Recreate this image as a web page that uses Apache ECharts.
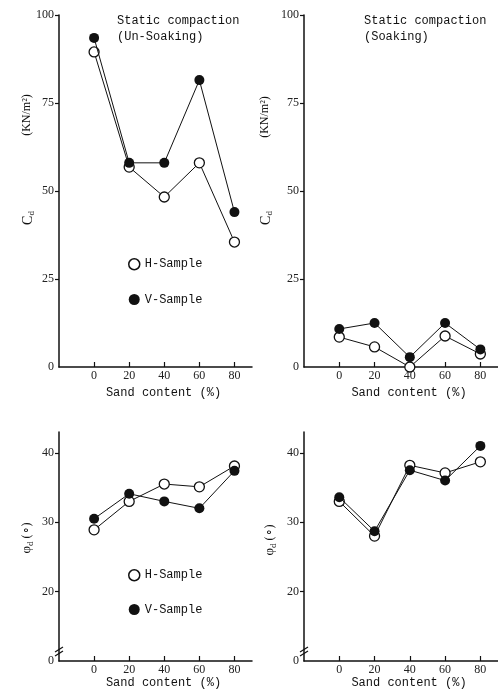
<!DOCTYPE html>
<html>
<head>
<meta charset="utf-8">
<script src="https://cdn.jsdelivr.net/npm/echarts@6/dist/echarts.min.js"></script>
<style>
  html, body { margin: 0; padding: 0; background: #fff; }
  #chart { width: 498px; height: 691px; }
</style>
</head>
<body>
<div id="chart"></div>
<script>
// sand content (%) on every panel
const sand = [0, 20, 40, 60, 80]

// cohesion Cd (KN/m2)
const cdUnsoakH = [89.5, 56.8, 48.3, 58, 35.5]
const cdUnsoakV = [93.5, 58, 58, 81.5, 44]
const cdSoakH = [8.5, 5.7, 0, 8.8, 3.7]
const cdSoakV = [10.8, 12.5, 2.8, 12.5, 5]

// friction angle phi_d (deg)
const phiUnsoakH = [28.9, 33, 35.5, 35.1, 38.1]
const phiUnsoakV = [30.5, 34.1, 33, 32, 37.4]
const phiSoakH = [33, 28, 38.2, 37.1, 38.7]
const phiSoakV = [33.6, 28.7, 37.5, 36, 41]

// tick labels
const cdTicks = [0, 25, 50, 75, 100]
const phiTicks = [20, 30, 40]
const phiBreakLabel = '0'   // axis is broken below 20, bottom shown as 0

const ink = '#111'
const serif = 'Liberation Serif'
const mono = 'Liberation Mono'

const pairs = arr => arr.map((v, i) => [sand[i], v])

const xAxisOf = gridIndex => ({
  type: 'value',
  gridIndex,
  min: -20,
  max: 90,
  name: 'Sand content (%)',
  nameLocation: 'middle',
  nameGap: 16,
  nameTextStyle: { fontFamily: mono, fontSize: 12, color: ink, padding: [0, 0, 0, 16] },
  axisLine: { onZero: false, lineStyle: { color: ink, width: 1.5 } },
  axisTick: { inside: true, length: 5, customValues: sand, lineStyle: { color: ink, width: 1.2 } },
  axisLabel: { customValues: sand, margin: 3, fontFamily: serif, fontSize: 12, color: '#222' },
  splitLine: { show: false }
})

const cdAxis = gridIndex => ({
  type: 'value',
  gridIndex,
  min: 0,
  max: 100,
  interval: 25,
  axisLine: { show: true, onZero: false, lineStyle: { color: ink, width: 1.5 } },
  axisTick: { show: true, length: 4, customValues: cdTicks.slice(1), lineStyle: { color: ink, width: 1.2 } },
  axisLabel: { customValues: cdTicks, margin: 5, fontFamily: serif, fontSize: 12, color: '#222' },
  splitLine: { show: false }
})

const phiAxis = gridIndex => ({
  type: 'value',
  gridIndex,
  min: 10,
  max: 43,
  axisLine: { show: true, onZero: false, lineStyle: { color: ink, width: 1.5 } },
  axisTick: { show: true, length: 4, customValues: phiTicks, lineStyle: { color: ink, width: 1.2 } },
  axisLabel: {
    customValues: [10].concat(phiTicks),
    margin: 5,
    fontFamily: serif,
    fontSize: 12,
    color: '#222',
    formatter: v => (v === 10 ? phiBreakLabel : String(v))
  },
  splitLine: { show: false }
})

const hSeries = (data, idx) => ({
  name: 'H-Sample',
  type: 'line',
  xAxisIndex: idx,
  yAxisIndex: idx,
  data: pairs(data),
  symbol: 'circle',
  symbolSize: 10,
  itemStyle: { color: '#fff', borderColor: ink, borderWidth: 1.3 },
  lineStyle: { color: ink, width: 1 },
  z: 2
})

const vSeries = (data, idx) => ({
  name: 'V-Sample',
  type: 'line',
  xAxisIndex: idx,
  yAxisIndex: idx,
  data: pairs(data),
  symbol: 'circle',
  symbolSize: 10,
  itemStyle: { color: ink },
  lineStyle: { color: ink, width: 1 },
  z: 3
})

const legendData = [
  { name: 'H-Sample', icon: 'circle', itemStyle: { color: '#fff', borderColor: ink, borderWidth: 1.5 } },
  { name: 'V-Sample', icon: 'circle', itemStyle: { color: ink } }
]

const legendAt = (top, gap) => ({
  data: legendData,
  orient: 'vertical',
  left: 123,
  top,
  itemWidth: 11,
  itemHeight: 11,
  itemGap: gap,
  selectedMode: false,
  textStyle: { fontFamily: mono, fontSize: 12, color: ink }
})

const rotText = (x, y, text, rich) => ({
  type: 'text',
  x,
  y,
  rotation: Math.PI / 2,
  style: {
    text,
    rich,
    fill: ink,
    font: '12px ' + serif,
    align: 'center',
    verticalAlign: 'middle'
  }
})

const cdRich = { c: { fontFamily: serif, fontSize: 14, fill: ink }, d: { fontFamily: serif, fontSize: 9, fill: ink, padding: [7, 0, 0, 0] } }
const phiRich = { c: { fontFamily: serif, fontSize: 13, fill: ink }, d: { fontFamily: serif, fontSize: 9, fill: ink, padding: [7, 0, 0, 0] }, t: { fontFamily: serif, fontSize: 12, fill: ink } }

const breakMark = x => ([
  { type: 'line', shape: { x1: x - 4, y1: 652, x2: x + 4, y2: 647 }, style: { stroke: ink, lineWidth: 1.2 } },
  { type: 'line', shape: { x1: x - 4, y1: 656, x2: x + 4, y2: 651 }, style: { stroke: ink, lineWidth: 1.2 } }
])

const chart = echarts.init(document.getElementById('chart'))

chart.setOption({
  animation: false,
  backgroundColor: '#fff',
  title: [
    { text: 'Static compaction\n(Un-Soaking)', left: 112, top: 8, textStyle: { fontFamily: mono, fontSize: 12, fontWeight: 'normal', color: ink, lineHeight: 16 } },
    { text: 'Static compaction\n(Soaking)', left: 359, top: 8, textStyle: { fontFamily: mono, fontSize: 12, fontWeight: 'normal', color: ink, lineHeight: 16 } }
  ],
  legend: [legendAt(253, 23), legendAt(564, 22)],
  grid: [
    { left: 59, top: 15, width: 193, height: 352 },
    { left: 304, top: 15, width: 194, height: 352 },
    { left: 59, top: 432, width: 193, height: 229 },
    { left: 304, top: 432, width: 194, height: 229 }
  ],
  xAxis: [xAxisOf(0), xAxisOf(1), xAxisOf(2), xAxisOf(3)],
  yAxis: [cdAxis(0), cdAxis(1), phiAxis(2), phiAxis(3)],
  series: [
    hSeries(cdUnsoakH, 0), vSeries(cdUnsoakV, 0),
    hSeries(cdSoakH, 1), vSeries(cdSoakV, 1),
    hSeries(phiUnsoakH, 2), vSeries(phiUnsoakV, 2),
    hSeries(phiSoakH, 3), vSeries(phiSoakV, 3)
  ],
  graphic: [
    rotText(27, 115, '(KN/m²)'),
    rotText(28, 218, '{c|C}{d|d}', cdRich),
    rotText(265, 117, '(KN/m²)'),
    rotText(266, 218, '{c|C}{d|d}', cdRich),
    rotText(27, 538, '{c|φ}{d|d} {t|(∘)}', phiRich),
    rotText(270, 540, '{c|φ}{d|d} {t|(∘)}', phiRich)
  ].concat(breakMark(59), breakMark(304))
})
</script>
</body>
</html>
